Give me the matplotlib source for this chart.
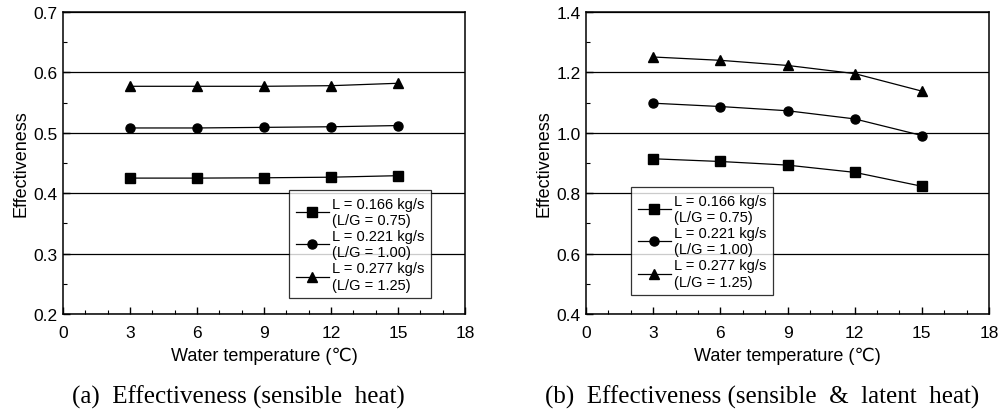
import matplotlib
matplotlib.use("Agg")
import matplotlib.pyplot as plt
from matplotlib.ticker import MultipleLocator

temps = [3, 6, 9, 12, 15]

# (a) sensible heat
a_l166 = [0.425, 0.425, 0.4255, 0.4265, 0.429]
a_l221 = [0.508, 0.508, 0.509, 0.510, 0.512]
a_l277 = [0.577, 0.577, 0.577, 0.578, 0.582]

# (b) sensible & latent heat
b_l166 = [0.914, 0.905, 0.893, 0.869, 0.823]
b_l221 = [1.098, 1.087, 1.073, 1.046, 0.991]
b_l277 = [1.251, 1.240, 1.223, 1.196, 1.138]

labels = ["L = 0.166 kg/s\n(L/G = 0.75)",
          "L = 0.221 kg/s\n(L/G = 1.00)",
          "L = 0.277 kg/s\n(L/G = 1.25)"]
markers = ["s", "o", "^"]

captions = ["(a)  Effectiveness (sensible  heat)",
            "(b)  Effectiveness (sensible  &  latent  heat)"]

plt.rcParams['font.family'] = ['Liberation Sans', 'DejaVu Sans']

fig = plt.figure(figsize=(10, 4.14), dpi=100)
W, H = 1000, 414
axA = fig.add_axes([63 / W, 1 - 315 / H, (465 - 63) / W, (315 - 13) / H])
axB = fig.add_axes([586 / W, 1 - 315 / H, (989 - 586) / W, (315 - 13) / H])


def style(ax, ylo, yhi, ymaj, ymin, series, legend_bbox):
    for vals, m, lab in zip(series, markers, labels):
        ax.plot(temps, vals, color='black', lw=0.9, marker=m, markersize=7.5 if m == '^' else 6.5,
                markerfacecolor='black', markeredgecolor='black', label=lab, zorder=3)
    ax.set_xlim(0, 18)
    ax.set_ylim(ylo, yhi)
    ax.xaxis.set_major_locator(MultipleLocator(3))
    ax.xaxis.set_minor_locator(MultipleLocator(1))
    ax.yaxis.set_major_locator(MultipleLocator(ymaj))
    ax.yaxis.set_minor_locator(MultipleLocator(ymin))
    ax.tick_params(which='both', direction='in', top=False, right=False,
                   labelsize=12.5, colors='black')
    ax.tick_params(which='major', length=5, width=1)
    ax.tick_params(which='minor', length=3, width=0.8)
    ax.tick_params(axis='x', pad=8)
    ax.tick_params(axis='y', pad=4)
    ax.grid(axis='y', which='major', color='black', lw=0.9)
    ax.set_axisbelow(True)
    for s in ax.spines.values():
        s.set_linewidth(1.1)
    ax.set_xlabel("Water temperature (℃)", fontsize=13, labelpad=5)
    ax.set_ylabel("Effectiveness", fontsize=13, labelpad=3)
    leg = ax.legend(loc='upper left', bbox_to_anchor=legend_bbox, frameon=True,
                    fancybox=False, edgecolor='black', fontsize=10.5, handlelength=2.3,
                    handletextpad=0.2, labelspacing=0.15, borderpad=0.45,
                    borderaxespad=0)
    leg.get_frame().set_linewidth(0.9)
    leg.set_zorder(5)


style(axA, 0.2, 0.7, 0.1, 0.05, [a_l166, a_l221, a_l277],
      ((289 - 63) / (465 - 63), (315 - 191) / (315 - 13)))
style(axB, 0.4, 1.4, 0.2, 0.1, [b_l166, b_l221, b_l277],
      ((631 - 586) / (989 - 586), (315 - 188) / (315 - 13)))
axA.yaxis.set_major_formatter(plt.FormatStrFormatter('%.1f'))
axB.yaxis.set_major_formatter(plt.FormatStrFormatter('%.1f'))

fig.text(238 / W, 1 - 397 / H, captions[0], ha='center', va='center',
         fontsize=18, family='Liberation Serif')
fig.text(762 / W, 1 - 397 / H, captions[1], ha='center', va='center',
         fontsize=18, family='Liberation Serif')

fig.savefig("out.png", dpi=100)
